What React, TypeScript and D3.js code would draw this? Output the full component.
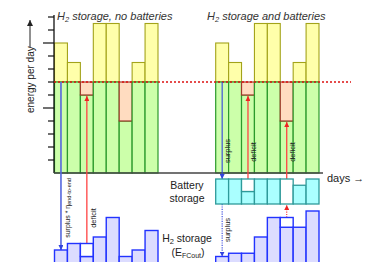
import React from 'react';
import * as d3 from 'd3';

// days along the x axis (same 8 days in both panels)
const days = ['d1', 'd2', 'd3', 'd4', 'd5', 'd6', 'd7', 'd8'];
// daily energy production and constant demand
const energy = [10, 8.5, 6, 11.5, 11.5, 4, 8.5, 11.5];
const demand = 7;
const energyTicks = [1, 2, 3, 4, 5, 6, 7, 8, 9, 10, 11, 12];
// H2 storage level, no batteries (withdrawn part drawn white)
const h2NoBatt = [2, 3, 1, 4, 7, 1, 2, 5];
const h2NoBattOut = [0, 0, 2, 0, 0, 0, 0, 0];
// H2 storage level with batteries
const h2Batt = [1, 1.5, 1.5, 4, 7, 5.5, 5.5, 8];
const h2BattOut = [0, 0, 0, 0, 0, 1.5, 0, 0];
// battery level (0..1)
const battery = [1, 1, 0.5, 1, 1, 0, 0.75, 1];
const batteryOut = [0, 0, 0.5, 0, 0, 1, 0, 0];

const FONT = '"Liberation Sans", Arial, sans-serif';

const xLeft = d3.scaleBand<string>().domain(days).range([54.5, 158]);
const xRight = d3.scaleBand<string>().domain(days).range([215.7, 319]);
const y = d3.scaleLinear().domain([0, 12]).range([173, 17]);
const ys = d3.scaleLinear().domain([0, 8]).range([263, 211]);
const yb = d3.scaleLinear().domain([0, 1]).range([204, 179]);

const EnergyBars = ({ x }: { x: d3.ScaleBand<string> }) => {
  const w = x.bandwidth();
  return (
    <g>
      {days.map((d, i) => {
        const v = energy[i];
        const x0 = x(d) as number;
        if (v >= demand) {
          return (
            <g key={d}>
              <rect x={x0} y={y(v)} width={w} height={y(demand) - y(v)}
                fill="#ffffaa" stroke="#a3a31a" strokeWidth={1.1} />
              <rect x={x0} y={y(demand)} width={w} height={y(0) - y(demand)}
                fill="#ccffaa" stroke="#2b9a2b" strokeWidth={1.2} />
            </g>
          );
        }
        return (
          <g key={d}>
            <rect x={x0} y={y(v)} width={w} height={y(0) - y(v)}
              fill="#ccffaa" stroke="#2b9a2b" strokeWidth={1.2} />
            <rect x={x0} y={y(demand)} width={w} height={y(v) - y(demand)}
              fill="#ffdcc0" stroke="#a03a2a" strokeWidth={1.2} />
          </g>
        );
      })}
    </g>
  );
};

const H2Bars = ({ x, level, out }: { x: d3.ScaleBand<string>; level: number[]; out: number[] }) => {
  const w = x.bandwidth();
  return (
    <g>
      {days.map((d, i) => {
        const x0 = x(d) as number;
        return (
          <g key={d}>
            <rect x={x0} y={ys(level[i])} width={w} height={280 - ys(level[i])}
              fill="#dcdcff" stroke="#2233ff" strokeWidth={1.4} />
            {out[i] > 0 && (
              <rect x={x0} y={ys(level[i] + out[i])} width={w}
                height={ys(level[i]) - ys(level[i] + out[i])}
                fill="#ffffff" stroke="#2233ff" strokeWidth={1.4} />
            )}
          </g>
        );
      })}
    </g>
  );
};

const VText = ({ x, y, text, size = 7.5 }: { x: number; y: number; text: React.ReactNode; size?: number }) => (
  <text transform={`translate(${x},${y}) rotate(-90)`} textAnchor="middle"
    dominantBaseline="central" fontSize={size} fill="#222" fontFamily={FONT}>
    {text}
  </text>
);

export default function App() {
  const cL = (d: string) => (xLeft(d) as number) + xLeft.bandwidth() / 2;
  const cR = (d: string) => (xRight(d) as number) + xRight.bandwidth() / 2;
  const wR = xRight.bandwidth();

  return (
    <svg width={369} height={262} style={{ position: 'fixed', left: 0, top: 0, background: '#fff' }}
      fontFamily={FONT}>
      <defs>
        <marker id="arBlue" viewBox="0 0 10 10" refX="10" refY="5" markerWidth="5" markerHeight="5"
          markerUnits="userSpaceOnUse" orient="auto">
          <path d="M0,0 L10,5 L0,10 z" fill="#3344dd" />
        </marker>
        <marker id="arRed" viewBox="0 0 10 10" refX="10" refY="5" markerWidth="5" markerHeight="5"
          markerUnits="userSpaceOnUse" orient="auto">
          <path d="M0,0 L10,5 L0,10 z" fill="#ee2222" />
        </marker>
        <marker id="arBlack" viewBox="0 0 10 10" refX="10" refY="5" markerWidth="6" markerHeight="6"
          markerUnits="userSpaceOnUse" orient="auto">
          <path d="M0,0 L10,5 L0,10 z" fill="#222" />
        </marker>
      </defs>

      {/* titles */}
      <text x={57} y={20} fontSize={11} fontStyle="italic" fill="#333">
        H<tspan fontSize={7.5} dy={2}>2</tspan><tspan dy={-2}> storage, no batteries</tspan>
      </text>
      <text x={207} y={20} fontSize={11} fontStyle="italic" fill="#333">
        H<tspan fontSize={7.5} dy={2}>2</tspan><tspan dy={-2}> storage and batteries</tspan>
      </text>

      {/* y axis label */}
      <text transform="translate(30,113) rotate(-90)" fontSize={10} fill="#222"
        dominantBaseline="central">energy per day</text>
      <line x1={30} x2={30} y1={47} y2={20} stroke="#222" strokeWidth={1} markerEnd="url(#arBlack)" />

      {/* bars */}
      <EnergyBars x={xLeft} />
      <EnergyBars x={xRight} />

      {/* y axis */}
      <line x1={54} x2={54} y1={15} y2={173} stroke="#111" strokeWidth={1.3} />
      {energyTicks.map(t => (
        <line key={t} x1={t % 5 === 0 ? 43 : 48} x2={54} y1={y(t)} y2={y(t)} stroke="#111" strokeWidth={1.2} />
      ))}

      {/* baseline */}
      <line x1={54} x2={323} y1={y(0)} y2={y(0)} stroke="#444" strokeWidth={1.6} />
      <text x={327} y={182} fontSize={11} fill="#222">days →</text>

      {/* demand line */}
      <line x1={54} x2={351} y1={y(demand)} y2={y(demand)} stroke="#dd1111" strokeWidth={1.3}
        strokeDasharray="2,2" />

      {/* left panel flows */}
      <line x1={cL('d1')} x2={cL('d1')} y1={y(demand)} y2={ys(h2NoBatt[0])} stroke="#5566dd"
        strokeWidth={1.6} markerEnd="url(#arBlue)" />
      <line x1={cL('d3')} x2={cL('d3')} y1={ys(h2NoBatt[2] + h2NoBattOut[2])} y2={y(energy[2]) + 1}
        stroke="#ff4444" strokeWidth={1.3} markerEnd="url(#arRed)" />
      <VText x={67} y={208} size={7}
        text={<>surplus * η<tspan fontSize={5.5} dy={1.5}>end-to-end</tspan></>} />
      <VText x={93} y={218} text="deficit" />

      {/* right panel flows */}
      <line x1={cR('d1')} x2={cR('d1')} y1={y(demand)} y2={yb(1)} stroke="#3344dd"
        strokeWidth={1.1} markerEnd="url(#arBlue)" />
      <line x1={cR('d1')} x2={cR('d1')} y1={yb(0)} y2={ys(h2Batt[0])} stroke="#3344dd"
        strokeWidth={1.1} strokeDasharray="1.2,1.2" markerEnd="url(#arBlue)" />
      {['d3', 'd6'].map(d => {
        const i = days.indexOf(d);
        return (
          <line key={d} x1={cR(d)} x2={cR(d)} y1={yb(1)} y2={y(energy[i]) + 1}
            stroke="#ff4444" strokeWidth={1.3} markerEnd="url(#arRed)" />
        );
      })}
      <line x1={cR('d6')} x2={cR('d6')} y1={ys(h2Batt[5] + h2BattOut[5])} y2={yb(0) + 1}
        stroke="#ff3333" strokeWidth={1.1} strokeDasharray="1.2,1.2" markerEnd="url(#arRed)" />
      <VText x={227} y={151} text="surplus" />
      <VText x={253} y={152} text="deficit" />
      <VText x={292} y={152} text="deficit" />
      <VText x={227} y={230} text="surplus" />

      {/* battery storage */}
      {days.map((d, i) => {
        const x0 = xRight(d) as number;
        return (
          <g key={d}>
            {battery[i] > 0 && (
              <rect x={x0} y={yb(battery[i])} width={wR} height={yb(0) - yb(battery[i])}
                fill="#aaffff" stroke="#2e9a9a" strokeWidth={1.3} />
            )}
            {batteryOut[i] > 0 && (
              <rect x={x0} y={yb(battery[i] + batteryOut[i])} width={wR}
                height={yb(battery[i]) - yb(battery[i] + batteryOut[i])}
                fill="#ffffff" stroke="#2e9a9a" strokeWidth={1.3} />
            )}
          </g>
        );
      })}
      <text x={187} y={189} fontSize={10.5} textAnchor="middle" fill="#222">Battery</text>
      <text x={187} y={202} fontSize={10.5} textAnchor="middle" fill="#222">storage</text>

      {/* H2 storage */}
      <H2Bars x={xLeft} level={h2NoBatt} out={h2NoBattOut} />
      <H2Bars x={xRight} level={h2Batt} out={h2BattOut} />
      <text x={187} y={242} fontSize={10.5} textAnchor="middle" fill="#222">
        H<tspan fontSize={7.5} dy={1.5}>2</tspan><tspan dy={-1.5}> storage</tspan>
      </text>
      <text x={188} y={256} fontSize={10.5} textAnchor="middle" fill="#222">
        (E<tspan fontSize={7} dy={1.5}>FCout</tspan><tspan dy={-1.5}>)</tspan>
      </text>
    </svg>
  );
}
